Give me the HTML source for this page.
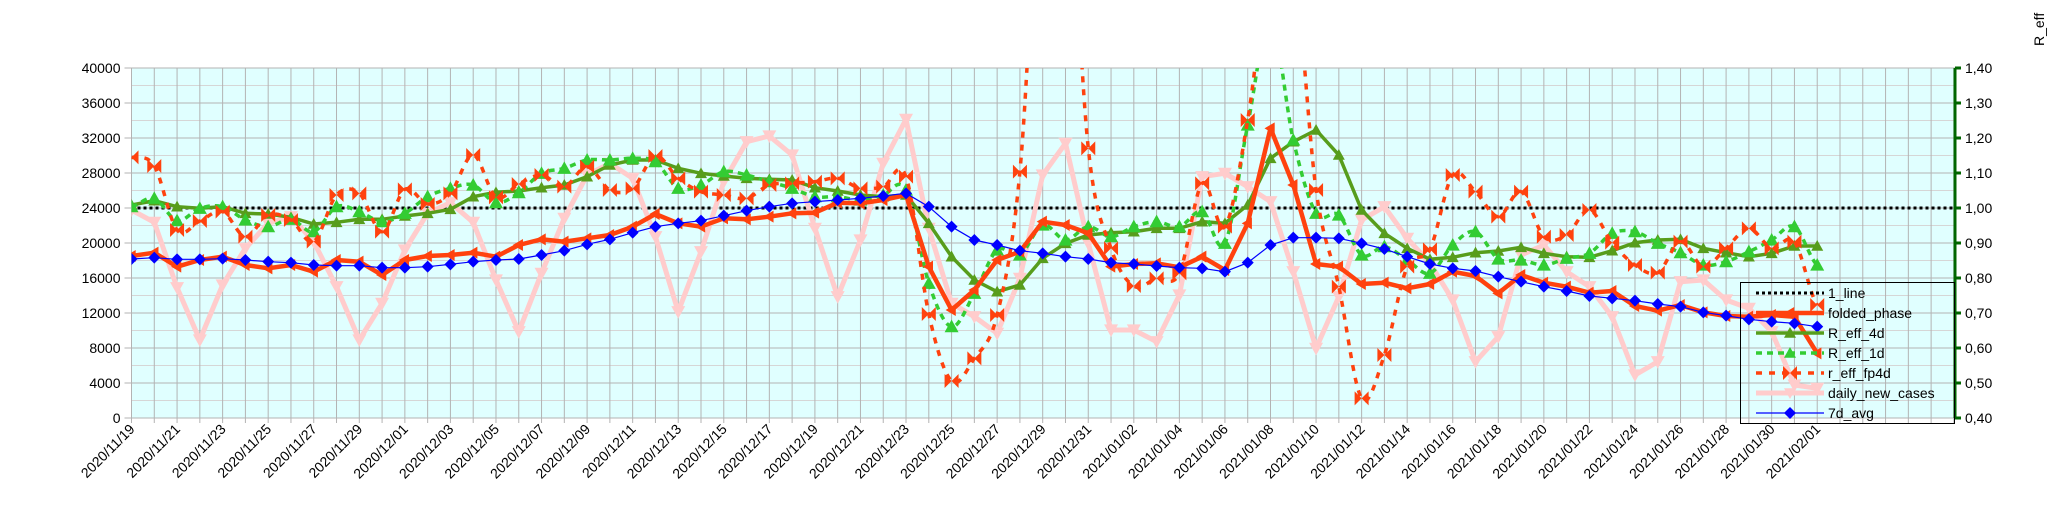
<!DOCTYPE html>
<html><head><meta charset="utf-8"><style>
html,body{margin:0;padding:0;background:#fff;}
svg{display:block;font-family:"Liberation Sans",sans-serif;}
</style></head><body>
<svg id="s" width="2048" height="527" xmlns="http://www.w3.org/2000/svg"></svg>
<script>
const S=document.getElementById('s');
const X0=131.5,DX=22.78,T=68,B=418,R=1955;
const X=d=>X0+DX*d;
let h='';
h+=`<defs><clipPath id="c"><rect x="${X0}" y="${T}" width="${R-X0}" height="${B-T}"/></clipPath></defs>`;
h+=`<rect x="${X0}" y="${T}" width="${R-X0}" height="${B-T}" fill="#e0ffff"/>`;
for(let i=0;i<=20;i++){const y=B-i*17.5;h+=`<line x1="${X0}" x2="${R}" y1="${y}" y2="${y}" stroke="${i%2?'#d6d6d6':'#b3b3b3'}" stroke-width="1"/>`;}
for(let d=0;d<=80;d++){const x=X(d);if(x>R)break;h+=`<line x1="${x}" x2="${x}" y1="${T}" y2="${B+5}" stroke="#b3b3b3" stroke-width="1"/>`;}
for(let i=0;i<=10;i++){const y=B-i*35;h+=`<line x1="${X0-7}" x2="${X0}" y1="${y}" y2="${y}" stroke="#b3b3b3"/><text x="${X0-11}" y="${y+5}" font-size="14" text-anchor="end" fill="#000">${i*4000}</text>`;}
h+=`<line x1="${R}" x2="${R}" y1="${T}" y2="${B}" stroke="#006600" stroke-width="3"/>`;
for(let i=0;i<=10;i++){const y=B-i*35;h+=`<line x1="${R}" x2="${R+6}" y1="${y}" y2="${y}" stroke="#006600" stroke-width="3"/><text x="${R+10}" y="${y+5}" font-size="14" fill="#000">${(0.4+i*0.1).toFixed(2).replace('.',',')}</text>`;}
h+=`<text transform="translate(2044,46) rotate(-90)" font-size="14">R_eff</text>`;
const start=new Date(Date.UTC(2020,10,19));
for(let d=0;d<=74;d+=2){const dt=new Date(start.getTime()+d*86400000);
const s=dt.getUTCFullYear()+'/'+String(dt.getUTCMonth()+1).padStart(2,'0')+'/'+String(dt.getUTCDate()).padStart(2,'0');
h+=`<text transform="translate(${X(d)+4},${B+12}) rotate(-45)" font-size="14" text-anchor="end">${s}</text>`;}
const Y=a=>a.map(z=>z==null?null:60+z/3);
const pink=Y([450,487,683,840,675,565,490,470,545,680,840,730,570,460,428,487,660,815,640,475,345,310,355,530,755,575,365,245,228,285,505,710,540,310,178,505,730,770,820,655,345,250,550,810,810,845,705,350,340,380,425,635,865,710,480,440,535,610,720,905,830,585,555,635,680,770,945,905,665,660,720,745,815,975,985]);
const blue=Y([597,593,598,598,596,600,605,608,615,617,617,623,623,620,613,605,600,597,585,572,553,538,518,500,490,482,467,452,440,430,425,420,415,408,400,440,500,540,555,572,580,590,597,608,612,618,623,625,635,608,555,533,533,535,550,567,590,612,625,633,650,665,680,693,708,715,722,732,740,757,767,778,785,790,800]);
const fold=Y([588,578,620,600,590,615,625,615,635,600,605,645,600,588,585,578,590,555,538,545,535,525,500,462,490,500,475,478,470,460,458,428,430,420,405,620,750,690,600,575,485,495,520,620,612,610,622,590,630,490,205,375,612,620,672,668,685,672,635,648,700,645,668,680,698,693,738,752,735,757,768,770,765,770,880]);
const g4=Y([435,422,440,445,440,460,462,472,492,487,478,478,468,460,448,410,397,393,383,375,350,315,300,300,325,340,348,355,358,360,383,393,405,410,405,490,590,660,695,675,595,550,525,518,515,505,505,485,490,435,295,245,210,285,450,520,565,598,592,578,573,562,580,590,592,572,548,540,538,565,578,590,580,558,558]);
const g1=Y([440,415,482,445,440,480,500,478,515,440,455,485,460,410,385,375,428,398,340,325,300,300,295,305,385,375,335,345,365,385,410,410,420,405,390,670,800,700,570,585,495,540,500,530,500,485,500,455,550,195,-120,240,460,465,585,560,600,640,555,515,597,600,615,595,580,520,515,550,578,615,605,575,540,500,615]);
const fp=Y([292,318,510,483,455,530,465,480,545,405,400,515,388,432,400,285,412,372,345,380,320,390,385,288,355,395,405,415,375,370,365,355,385,380,350,762,963,895,765,335,-700,-700,265,565,678,655,640,370,500,180,-300,-300,390,680,1015,885,620,568,345,395,470,395,530,525,450,548,615,638,545,620,565,505,565,545,735]);
const y1=B-0.6*350;
function lin(a){return a.map((y,i)=>(i?'L':'M')+X(i).toFixed(1)+' '+y.toFixed(1)).join(' ');}
function smooth(a){let p='M'+X(0)+' '+a[0];for(let i=0;i<a.length-1;i++){const p0=a[Math.max(i-1,0)],p1=a[i],p2=a[i+1],p3=a[Math.min(i+2,a.length-1)];
const x1=X(i),x2=X(i+1);p+=` C${(x1+DX/3).toFixed(1)} ${(p1+(p2-p0)/6).toFixed(1)} ${(x2-DX/3).toFixed(1)} ${(p2-(p3-p1)/6).toFixed(1)} ${x2.toFixed(1)} ${p2.toFixed(1)}`;}return p;}
const tri=(x,y,c,s=6)=>`<path d="M${x} ${y-s} L${x+s} ${y+s*0.8} L${x-s} ${y+s*0.8}Z" fill="${c}"/>`;
const dtri=(x,y,c,s=6)=>`<path d="M${x} ${y+s} L${x+s} ${y-s*0.8} L${x-s} ${y-s*0.8}Z" fill="${c}"/>`;
const dia=(x,y,c,s=6)=>`<path d="M${x} ${y-s} L${x+s} ${y} L${x} ${y+s} L${x-s} ${y}Z" fill="${c}"/>`;
const bow=(x,y,c,s=7)=>`<path d="M${x-s} ${y-s} L${x} ${y} L${x-s} ${y+s}Z M${x+s} ${y-s} L${x} ${y} L${x+s} ${y+s}Z" fill="${c}"/>`;
const larr=(x,y,c,s=6)=>`<path d="M${x-s} ${y} L${x+s*0.7} ${y-s} L${x+s*0.7} ${y+s}Z" fill="${c}"/>`;
let g='<g clip-path="url(#c)">';
g+=`<line x1="${X0}" x2="${R}" y1="${y1}" y2="${y1}" stroke="#000" stroke-width="3" stroke-dasharray="3,3"/>`;
g+=`<path d="${lin(pink)}" fill="none" stroke="#ffcccc" stroke-width="5" stroke-linejoin="round"/>`;
pink.forEach((y,i)=>g+=dtri(X(i),y,'#ffcccc',7));
g+=`<path d="${lin(g4)}" fill="none" stroke="#579d1c" stroke-width="3.5"/>`;
g4.forEach((y,i)=>g+=tri(X(i),y,'#579d1c'));
g+=`<path d="${smooth(g1)}" fill="none" stroke="#33cc33" stroke-width="3.5" stroke-dasharray="6,5"/>`;
g1.forEach((y,i)=>g+=tri(X(i),y,'#33cc33',7));
g+=`<path d="${smooth(fp)}" fill="none" stroke="#ff420e" stroke-width="3.5" stroke-dasharray="6,7"/>`;
fp.forEach((y,i)=>g+=bow(X(i),y,'#ff420e'));
g+=`<path d="${lin(fold)}" fill="none" stroke="#ff420e" stroke-width="4.5" stroke-linejoin="round"/>`;
fold.forEach((y,i)=>g+=larr(X(i),y,'#ff420e'));
g+=`<path d="${lin(blue)}" fill="none" stroke="#0000ff" stroke-width="1.2"/>`;
blue.forEach((y,i)=>g+=dia(X(i),y,'#0000ff'));
g+='</g>';
h+=g;
h+=`<rect x="1740.5" y="282.5" width="214" height="141" fill="none" stroke="#000" stroke-width="1"/>`;
const L=[['1_line'],['folded_phase'],['R_eff_4d'],['R_eff_1d'],['r_eff_fp4d'],['daily_new_cases'],['7d_avg']];
const lx1=1756,lx2=1824,mx=1790;
L.forEach((e,i)=>{const y=293+i*20;let s='';
if(i==0)s=`<line x1="${lx1}" x2="${lx2}" y1="${y}" y2="${y}" stroke="#000" stroke-width="3" stroke-dasharray="3,3"/>`;
if(i==1)s=`<line x1="${lx1}" x2="${lx2}" y1="${y}" y2="${y}" stroke="#ff420e" stroke-width="4.5"/>`+larr(mx,y,'#ff420e');
if(i==2)s=`<line x1="${lx1}" x2="${lx2}" y1="${y}" y2="${y}" stroke="#579d1c" stroke-width="3.5"/>`+tri(mx,y,'#579d1c');
if(i==3)s=`<line x1="${lx1}" x2="${lx2}" y1="${y}" y2="${y}" stroke="#33cc33" stroke-width="3.5" stroke-dasharray="6,5"/>`+tri(mx,y,'#33cc33');
if(i==4)s=`<line x1="${lx1}" x2="${lx2}" y1="${y}" y2="${y}" stroke="#ff420e" stroke-width="3.5" stroke-dasharray="6,7"/>`+bow(mx,y,'#ff420e');
if(i==5)s=`<line x1="${lx1}" x2="${lx2}" y1="${y}" y2="${y}" stroke="#ffcccc" stroke-width="5"/>`+dtri(mx,y,'#ffcccc');
if(i==6)s=`<line x1="${lx1}" x2="${lx2}" y1="${y}" y2="${y}" stroke="#0000ff" stroke-width="1.2"/>`+dia(mx,y,'#0000ff');
h+=s+`<text x="1828" y="${y+5}" font-size="14">${e[0]}</text>`;});
S.innerHTML=h;
</script>
</body></html>
